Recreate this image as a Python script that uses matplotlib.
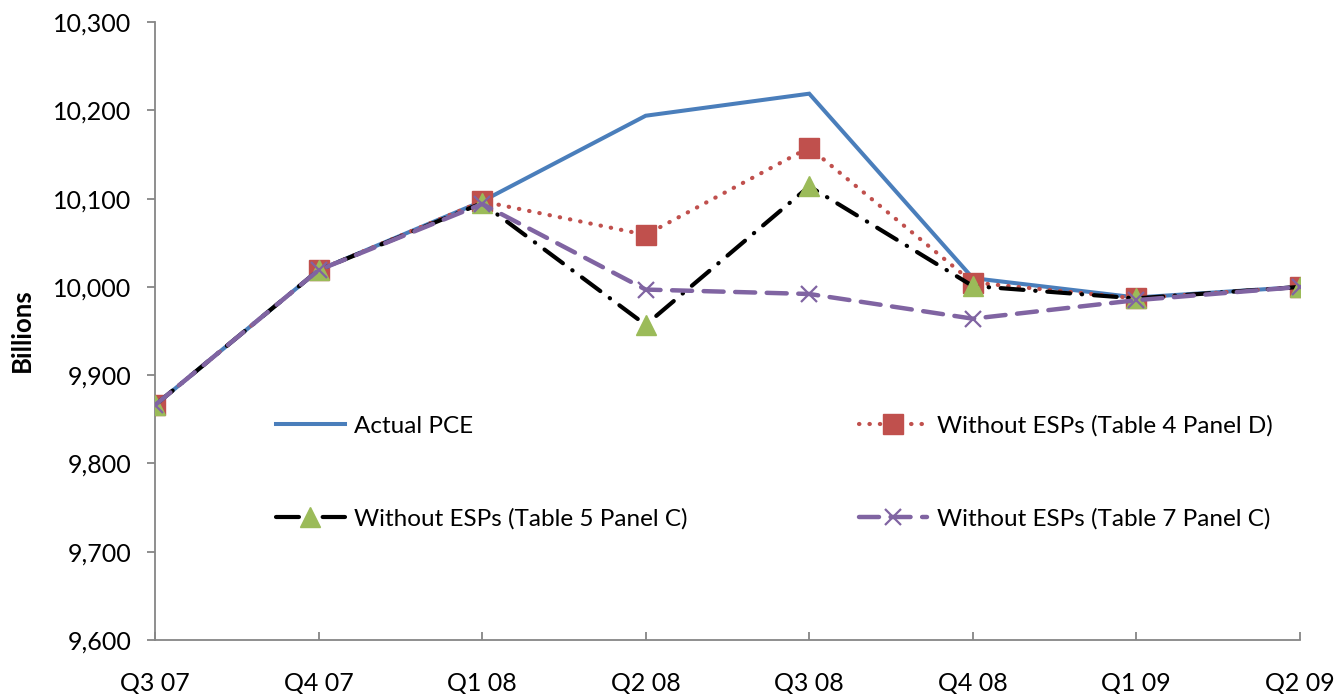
import matplotlib
matplotlib.use("Agg")
import matplotlib.pyplot as plt
from matplotlib.ticker import FuncFormatter, MultipleLocator

quarters = ["Q3 07", "Q4 07", "Q1 08", "Q2 08", "Q3 08", "Q4 08", "Q1 09", "Q2 09"]
actual_pce = [9866, 10019, 10097, 10194, 10219, 10010, 9988, 10000]
no_esp_t4d = [9866, 10019, 10097, 10059, 10158, 10005, 9987, 10000]
no_esp_t5c = [9866, 10019, 10095, 9957, 10114, 10001, 9987, 10000]
no_esp_t7c = [9866, 10019, 10094, 9997, 9992, 9964, 9985, 10000]

plt.rcParams['font.family'] = ['Lato', 'DejaVu Sans']

fig = plt.figure(figsize=(13.36, 6.94), dpi=100)
ax = fig.add_axes([0.116, 0.078, 0.857, 0.890])

x = range(len(quarters))
l1, = ax.plot(x, actual_pce, color="#4a7ebb", lw=2.9, solid_joinstyle="miter",
              label="Actual PCE", zorder=3)
l2, = ax.plot(x, no_esp_t4d, color="#c0504d", lw=3.0, linestyle=(0, (0.1, 2.4)),
              dash_capstyle="round", marker="s", markersize=14,
              markerfacecolor="#c0504d", markeredgecolor="#c0504d",
              label="Without ESPs (Table 4 Panel D)", zorder=4)
l3, = ax.plot(x, no_esp_t5c, color="black", lw=3.0, linestyle=(0, (5.5, 2.8, 0.1, 2.8)),
              dash_capstyle="round", marker="^", markersize=14,
              markerfacecolor="#9bbb59", markeredgecolor="#9bbb59",
              label="Without ESPs (Table 5 Panel C)", zorder=5)
l4, = ax.plot(x, no_esp_t7c, color="#8064a2", lw=3.2, linestyle=(0, (4.5, 2.6)),
              dash_capstyle="round", marker="x", markersize=12, markeredgewidth=1.6,
              markeredgecolor="#8064a2",
              label="Without ESPs (Table 7 Panel C)", zorder=6)

ax.set_xlim(0, len(quarters) - 1)
ax.set_ylim(9600, 10300)
ax.yaxis.set_major_locator(MultipleLocator(100))
ax.yaxis.set_major_formatter(FuncFormatter(lambda v, p: f"{int(v):,}"))
ax.set_xticks(list(x))
ax.set_xticklabels(quarters)

for s in ("top", "right"):
    ax.spines[s].set_visible(False)
for s in ("left", "bottom"):
    ax.spines[s].set_color("#868686")
    ax.spines[s].set_linewidth(1.3)

ax.tick_params(axis="y", direction="out", length=6, width=1.3, color="#868686",
               labelsize=18, pad=11)
ax.tick_params(axis="x", direction="in", length=6, width=1.3, color="#868686",
               labelsize=18, pad=23)

ax.set_ylabel("Billions", fontsize=18.5, fontweight="bold")
ax.yaxis.set_label_coords(-0.106, 0.502)

ax.legend(handles=[l1, l3, l2, l4], ncol=2, frameon=False, fontsize=17.5,
          handlelength=2.8, handletextpad=0.4, columnspacing=7.05,
          labelspacing=2.95, loc="center left", bbox_to_anchor=(0.087, 0.271))

fig.savefig("out.png", dpi=100)
